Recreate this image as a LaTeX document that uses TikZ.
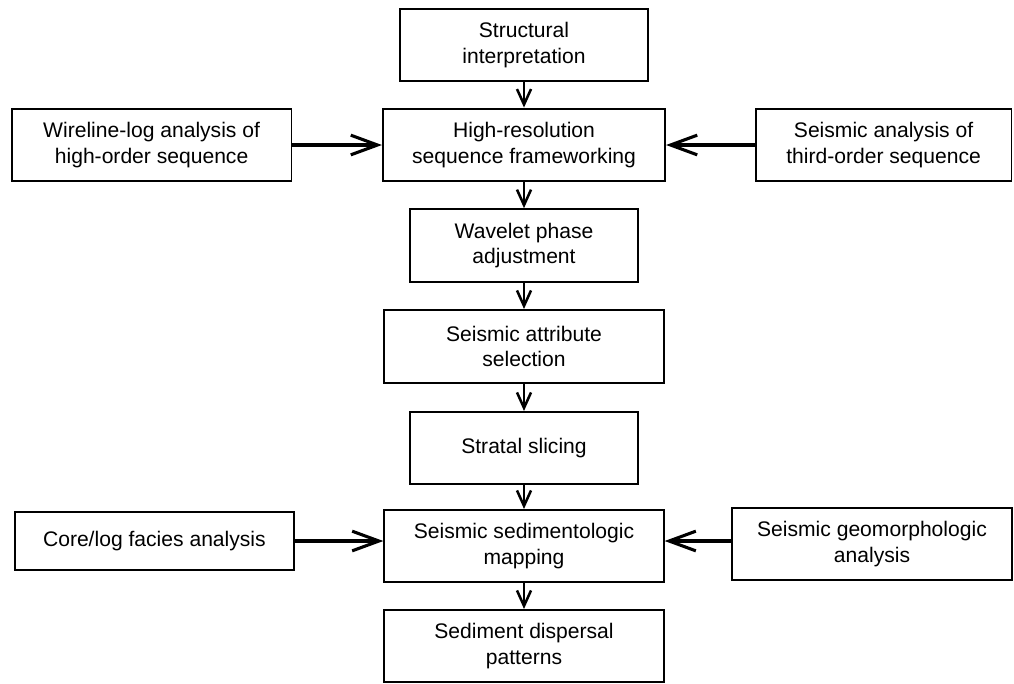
\documentclass[tikz,border=0pt]{standalone}
\usepackage{fontspec}
\setmainfont{Liberation Sans}
\usetikzlibrary{arrows.meta}
\tikzset{
	diagram/.style={font=\fontsize{15}{18}\selectfont},
	blok/.style={draw, line width=1.5pt, align=center, inner sep=2pt},
	stranski/.style={draw, line width=1pt, align=center, inner sep=2pt},
	tok/.style={-{Straight Barb[length=11pt,width=10pt,line width=1.8pt]}, line width=2.1pt},
	dotok/.style={-{Straight Barb[length=19pt,width=14pt,line width=2.2pt]}, line width=2.6pt},
}

\begin{document}
\begin{tikzpicture}[diagram]

\useasboundingbox (0,0) rectangle (25.35,-17.075);

\node[blok, minimum width=6.22cm, minimum height=1.8cm] (struct) at (13.1,-1.125)
    {Structural\\ interpretation};
\node[blok, minimum width=7.05cm, minimum height=1.82cm] (hires) at (13.1,-3.625)
    {High-resolution\\ sequence frameworking};
\node[blok, minimum width=5.72cm, minimum height=1.82cm] (wavelet) at (13.1,-6.14)
    {Wavelet phase\\ adjustment};
\node[blok, minimum width=7.0cm, minimum height=1.82cm] (attrib) at (13.1,-8.66)
    {Seismic attribute\\ selection};
\node[blok, minimum width=5.72cm, minimum height=1.8cm] (slicing) at (13.1,-11.2)
    {Stratal slicing};
\node[blok, minimum width=6.98cm, minimum height=1.8cm] (mapping) at (13.1,-13.65)
    {Seismic sedimentologic\\ mapping};
\node[blok, minimum width=6.98cm, minimum height=1.8cm] (dispersal) at (13.1,-16.15)
    {Sediment dispersal\\ patterns};

\node[stranski, minimum width=6.98cm, minimum height=1.8cm] (wireline) at (3.79,-3.625)
    {Wireline-log analysis of\\ high-order sequence};
\node[stranski, minimum width=6.38cm, minimum height=1.8cm] (seismic) at (22.09,-3.625)
    {Seismic analysis of\\ third-order sequence};
\node[stranski, minimum width=6.98cm, minimum height=1.45cm] (corelog) at (3.86,-13.525)
    {Core/log facies analysis};
\node[stranski, minimum width=7.0cm, minimum height=1.8cm] (geomorph) at (21.8,-13.6)
    {Seismic geomorphologic\\ analysis};

\draw[tok] (struct) -- (hires);
\draw[tok] (hires) -- (wavelet);
\draw[tok] (wavelet) -- (attrib);
\draw[tok] (attrib) -- (slicing);
\draw[tok] (slicing) -- (mapping);
\draw[tok] (mapping) -- (dispersal);

\draw[dotok] (wireline) -- (hires);
\draw[dotok] (seismic) -- (hires);
\draw[dotok] (corelog.east) -- (corelog.east -| mapping.west);
\draw[dotok] (geomorph.west |- corelog.east) -- (corelog.east -| mapping.east);

\end{tikzpicture}
\end{document}
